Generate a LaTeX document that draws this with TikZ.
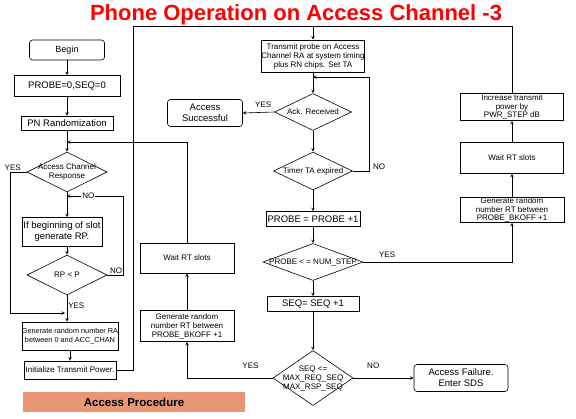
\documentclass[tikz,border=0pt]{standalone}
\usepackage{fontspec}
\setmainfont{Liberation Sans}
\usepackage{xcolor}
\usepackage{tikz}
\usetikzlibrary{shapes,arrows,positioning}

\definecolor{bannerc}{RGB}{232,150,118}
\newcommand{\boxfont}{\fontsize{8}{9}\selectfont}
\newcommand{\midfont}{\fontsize{9.5}{11}\selectfont}

\begin{document}
\begin{tikzpicture}[x=1pt, y=-1pt,
        box/.style={draw, line width=0.6pt, rectangle, inner sep=1pt, align=center, font=\boxfont},
        rbox/.style={box, rounded corners=3pt},
        dec/.style={draw, line width=0.6pt, diamond, inner sep=0pt},
        dtxt/.style={font=\boxfont, align=center, inner sep=0pt},
        lbl/.style={font=\boxfont, inner sep=1pt},
        title/.style={font=\bfseries\fontsize{22}{24}\selectfont, text=red, anchor=base, inner sep=0pt},
        banner/.style={fill=bannerc, minimum width=222pt, minimum height=20pt,
                       font=\bfseries\fontsize{11.5}{13}\selectfont},
        arr/.style={->, >=stealth, line width=0.6pt},
        line/.style={line width=0.6pt}
    ]
        \useasboundingbox (0,0) rectangle (576,418);

        \node[title] (ttl) at (296,20) {Phone Operation on Access Channel -3};

        % -- left column (x = 67) --
        \node[rbox, font=\fontsize{9}{10}\selectfont, minimum width=75pt, minimum height=20pt] (begin) at (67,50) {Begin};
        \node[box, font=\midfont, minimum width=106pt, minimum height=21pt] (pzero) at (67,86) {PROBE=0,SEQ=0};
        \node[box, font=\midfont, minimum width=92pt, minimum height=14pt, inner sep=0pt] (pnr) at (67,123) {PN Randomization};
        \node[dec, minimum width=80pt, minimum height=40pt,
              label={[dtxt]center:Access Channel\\Response}] (acr) at (67,172) {};
        \node[box, font=\midfont, minimum width=80pt, minimum height=29pt] (slot) at (62,232) {If beginning of slot\\generate RP.};
        \node[dec, minimum width=80pt, minimum height=40pt,
              label={[dtxt]center:RP < P}] (rpp) at (67,275) {};
        \node[box, font=\fontsize{7.3}{9}\selectfont, minimum width=94pt, minimum height=28pt, inner sep=0pt] (gra) at (70,336) {Generate random number RA\\between 0 and ACC\_CHAN};
        \node[box, minimum width=92pt, minimum height=18pt, inner sep=0pt] (init) at (70,370) {Initialize Transmit Power.};
        \node[banner] (proc) at (134,402) {Access Procedure};

        % -- back-off column on the left (x = 187) --
        \node[box, minimum width=94pt, minimum height=30pt] (wlt) at (187,258) {Wait RT slots};
        \node[box, minimum width=94pt, minimum height=31pt] (grt) at (187,326) {Generate random\\number RT between\\PROBE\_BKOFF +1};

        % -- main column (x = 313) --
        \node[box, minimum width=103pt, minimum height=32pt, inner sep=0pt] (tx) at (313,56) {Transmit probe on Access\\Channel RA at system timing\\plus RN chips. Set TA};
        \node[dec, minimum width=77pt, minimum height=37pt,
              label={[dtxt]center:Ack. Received}] (ack) at (313,112) {};
        \node[rbox, font=\midfont, minimum width=75pt, minimum height=27pt] (succ) at (205,113) {Access\\Successful};
        \node[dec, minimum width=79pt, minimum height=38pt,
              label={[dtxt]center:Timer TA expired}] (timer) at (313,171) {};
        \node[box, font=\midfont, minimum width=94pt, minimum height=15pt, inner sep=0pt] (pinc) at (313,219) {PROBE = PROBE +1};
        \node[dec, minimum width=100pt, minimum height=37pt,
              label={[dtxt]center:PROBE < = NUM\_STEP}] (pstep) at (313,262) {};
        \node[box, font=\midfont, minimum width=92pt, minimum height=15pt, inner sep=0pt] (seqinc) at (313,304) {SEQ= SEQ +1};
        \node[dec, minimum width=80pt, minimum height=55pt,
              label={[dtxt]center:SEQ <=\\MAX\_REQ\_SEQ\\MAX\_RSP\_SEQ}] (seqmax) at (313,378) {};
        \node[rbox, font=\midfont, minimum width=94pt, minimum height=27pt] (fail) at (461,378) {Access Failure.\\Enter SDS};

        % -- right column (x = 512) --
        \node[box, font=\fontsize{8}{8.8}\selectfont, minimum width=103pt, minimum height=27pt, inner sep=0pt] (incr) at (512,107) {Increase transmit\\power by\\PWR\_STEP dB};
        \node[box, minimum width=103pt, minimum height=31pt] (wrt) at (512,158) {Wait RT slots};
        \node[box, font=\fontsize{8}{8.5}\selectfont, minimum width=104pt, minimum height=25pt, inner sep=0pt] (grr) at (512,210) {Generate random\\number RT between\\PROBE\_BKOFF +1};

        % joints
        \coordinate (jpn)  at (67,142);
        \coordinate (jno)  at (67,196);
        \coordinate (jyes) at (65,313);
        \coordinate (jtop) at (313,26);
        \coordinate (jack) at (313,77);

        % -- left column arrows --
        \draw[arr] (begin) -- (pzero);
        \draw[arr] (pzero) -- (pnr);
        \draw[arr] (pnr) -- (acr);
        \draw[arr] (acr.south) -- (acr.south |- slot.north);
        \draw[arr] (rpp.north |- slot.south) -- (rpp.north);
        \draw[arr] (rpp.south) -- node[right, lbl, pos=0.4]{YES} (rpp.south |- gra.north);
        \draw[arr] (gra) -- (init);
        \draw[arr] (acr.west) -- ++(-16,0) node[above, lbl, xshift=2pt]{YES} |- (jyes);
        \draw[arr] (rpp.east) -- ++(16,0) node[above left, lbl]{NO} |- node[pos=0.81, lbl, fill=white]{NO} (jno);

        % -- into the probe loop --
        \draw[line] (init.east) -- ++(17,0) |- (jtop);
        \draw[line] (incr.north) |- (jtop);
        \draw[arr] (jtop) -- (tx);

        % -- main column arrows --
        \draw[arr] (tx) -- (ack);
        \draw[arr] (ack.west) -- node[above=3pt, lbl, pos=0.35]{YES} (succ.east);
        \draw[arr] (ack) -- (timer);
        \draw[arr] (timer.east) -- ++(16,0) node[above right, lbl, xshift=3pt]{NO} |- (jack);
        \draw[arr] (timer) -- (pinc);
        \draw[arr] (pinc) -- (pstep);
        \draw[arr] (pstep) -- (seqinc);
        \draw[arr] (seqinc) -- (seqmax);
        \draw[arr] (seqmax.east) -- node[above=8pt, lbl, pos=0.33]{NO} (fail.west);

        % -- back-off loops --
        \draw[arr] (seqmax.west) -| node[above=8pt, lbl, pos=0.13]{YES} (grt.south);
        \draw[arr] (grt) -- (wlt);
        \draw[arr] (wlt.north) |- (jpn);
        \draw[arr] (pstep.east) -| node[above=3pt, lbl, pos=0.08]{YES} (grr.south);
        \draw[arr] (grr) -- (wrt);
        \draw[arr] (wrt) -- (incr);

    \end{tikzpicture}
\end{document}
